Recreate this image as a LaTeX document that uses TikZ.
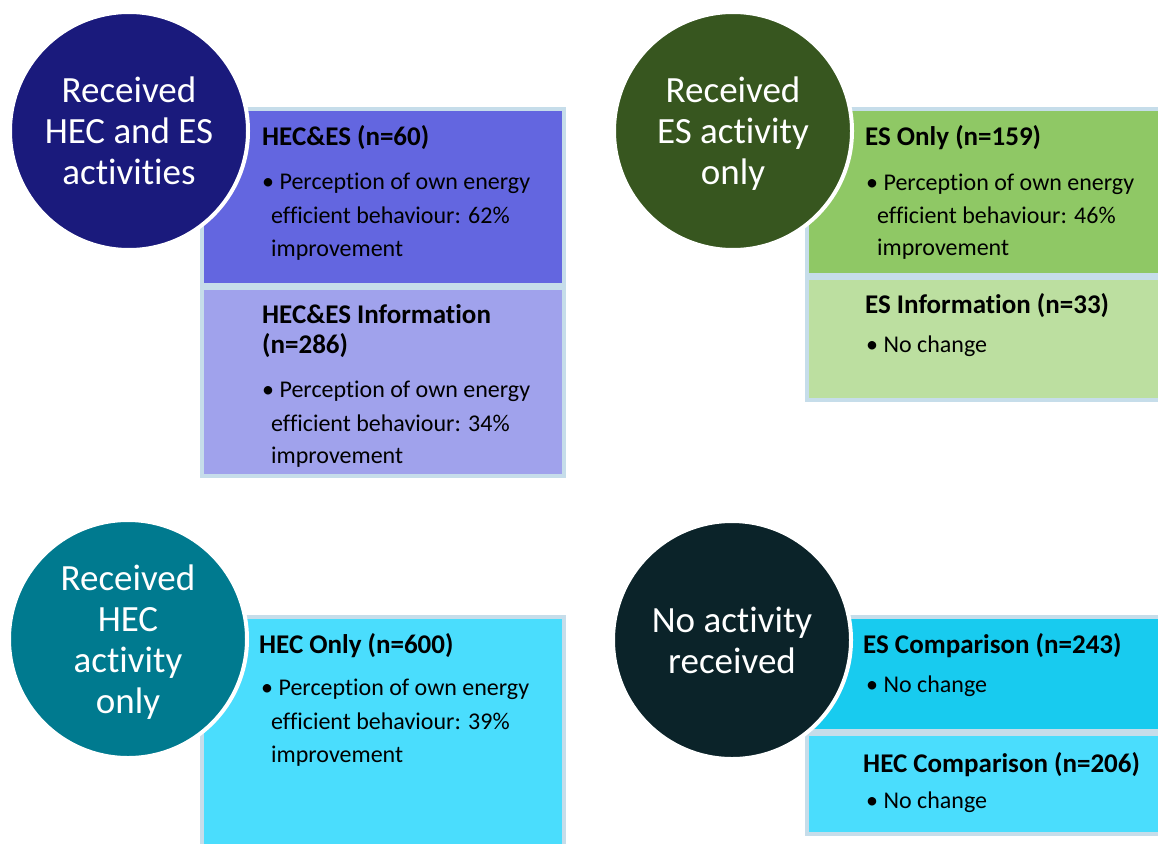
\documentclass[tikz,border=0pt]{standalone}
\usepackage{fontspec}
\setmainfont[Ligatures=NoCommon]{Carlito}
\usetikzlibrary{positioning}
\definecolor{edge}{HTML}{C6DDEA}
\definecolor{cboth}{HTML}{1A1A7C}
\definecolor{ces}{HTML}{37561F}
\definecolor{chec}{HTML}{007A8F}
\definecolor{cnone}{HTML}{0B2329}
\definecolor{bothA}{HTML}{6366E0}
\definecolor{bothB}{HTML}{A0A2EC}
\definecolor{esA}{HTML}{8FC865}
\definecolor{esB}{HTML}{BCDFA0}
\definecolor{cyanA}{HTML}{18CBEF}
\definecolor{cyanB}{HTML}{4ADDFD}

\begin{document}
\begin{tikzpicture}[x=1pt,y=-1pt]%
        \useasboundingbox[fill=white] (0,0) rectangle (1158,843); %%
        \begin{scope}
        \tikzstyle{every node}=[draw=edge,line width=4pt,inner sep=0,outer sep=0,anchor=north west] %%
        \node[fill=bothA,minimum width=362pt,minimum height=176pt] (boxb1) at (202,109) {}; %%
        \node[fill=bothB,minimum width=362pt,minimum height=188pt] (boxb2) at (202,288) {}; %%
        \node[fill=esA,minimum width=355pt,minimum height=166pt] (boxe1) at (807,109) {}; %%
        \node[fill=esB,minimum width=355pt,minimum height=122pt] (boxe2) at (807,278) {}; %%
        \node[fill=cyanB,minimum width=362pt,minimum height=233pt] (boxh1) at (202,617) {}; %%
        \node[fill=cyanA,minimum width=355pt,minimum height=114pt] (boxn1) at (807,617) {}; %%
        \node[fill=cyanB,minimum width=355pt,minimum height=100pt] (boxn2) at (807,734) {}; %%
        \end{scope}
        \begin{scope}
        \tikzstyle{every node}=[circle,draw=white,line width=4pt,minimum size=238pt,inner sep=0,text=white,align=center,text depth=0pt,font=\fontsize{37}{41}\selectfont] %%
        \node[fill=cboth] (both) at (129,131) {Received\\HEC and ES\\activities}; %%
        \node[fill=ces] (es) at (733,131) {Received\\ES activity\\only}; %%
        \node[fill=chec] (hec) at (128,639) {Received\\HEC\\activity\\only}; %%
        \node[fill=cnone] (none) at (732,640) {No activity\\received}; %%
        \end{scope}
        \begin{scope}
        \tikzstyle{every node}=[anchor=base west,inner sep=0,font=\fontsize{24}{33}\selectfont] %%
        \tikzset{hd/.style={font=\fontsize{27}{30}\selectfont\bfseries}}
        % received both
        \node[hd] (tb1) at (262,145) {HEC\&ES (n=60)}; %%
        \node (tb1a) at (262,189) {\textbullet\ Perception of own energy}; %%
        \node (tb1b) at (271,223) {efficient behaviour: 62\%}; %%
        \node (tb1c) at (271,256) {improvement}; %%
        \node[hd] (tb2) at (262,323) {HEC\&ES Information}; %%
        \node[hd] (tb2n) at (262,353) {(n=286)}; %%
        \node (tb2a) at (262,397) {\textbullet\ Perception of own energy}; %%
        \node (tb2b) at (271,431) {efficient behaviour: 34\%}; %%
        \node (tb2c) at (271,463) {improvement}; %%
        % received ES
        \node[hd] (te1) at (865,145) {ES Only (n=159)}; %%
        \node (te1a) at (866,190) {\textbullet\ Perception of own energy}; %%
        \node (te1b) at (877,223) {efficient behaviour: 46\%}; %%
        \node (te1c) at (877,255) {improvement}; %%
        \node[hd] (te2) at (865,313) {ES Information (n=33)}; %%
        \node (te2a) at (866,352) {\textbullet\ No change}; %%
        % received HEC
        \node[hd] (th1) at (259,653) {HEC Only (n=600)}; %%
        \node (th1a) at (261,695) {\textbullet\ Perception of own energy}; %%
        \node (th1b) at (271,729) {efficient behaviour: 39\%}; %%
        \node (th1c) at (271,762) {improvement}; %%
        % no activity
        \node[hd] (tn1) at (863,653) {ES Comparison (n=243)}; %%
        \node (tn1a) at (866,692) {\textbullet\ No change}; %%
        \node[hd] (tn2) at (863,772) {HEC Comparison (n=206)}; %%
        \node (tn2a) at (866,808) {\textbullet\ No change}; %%
        \end{scope}
\end{tikzpicture}
\end{document}
